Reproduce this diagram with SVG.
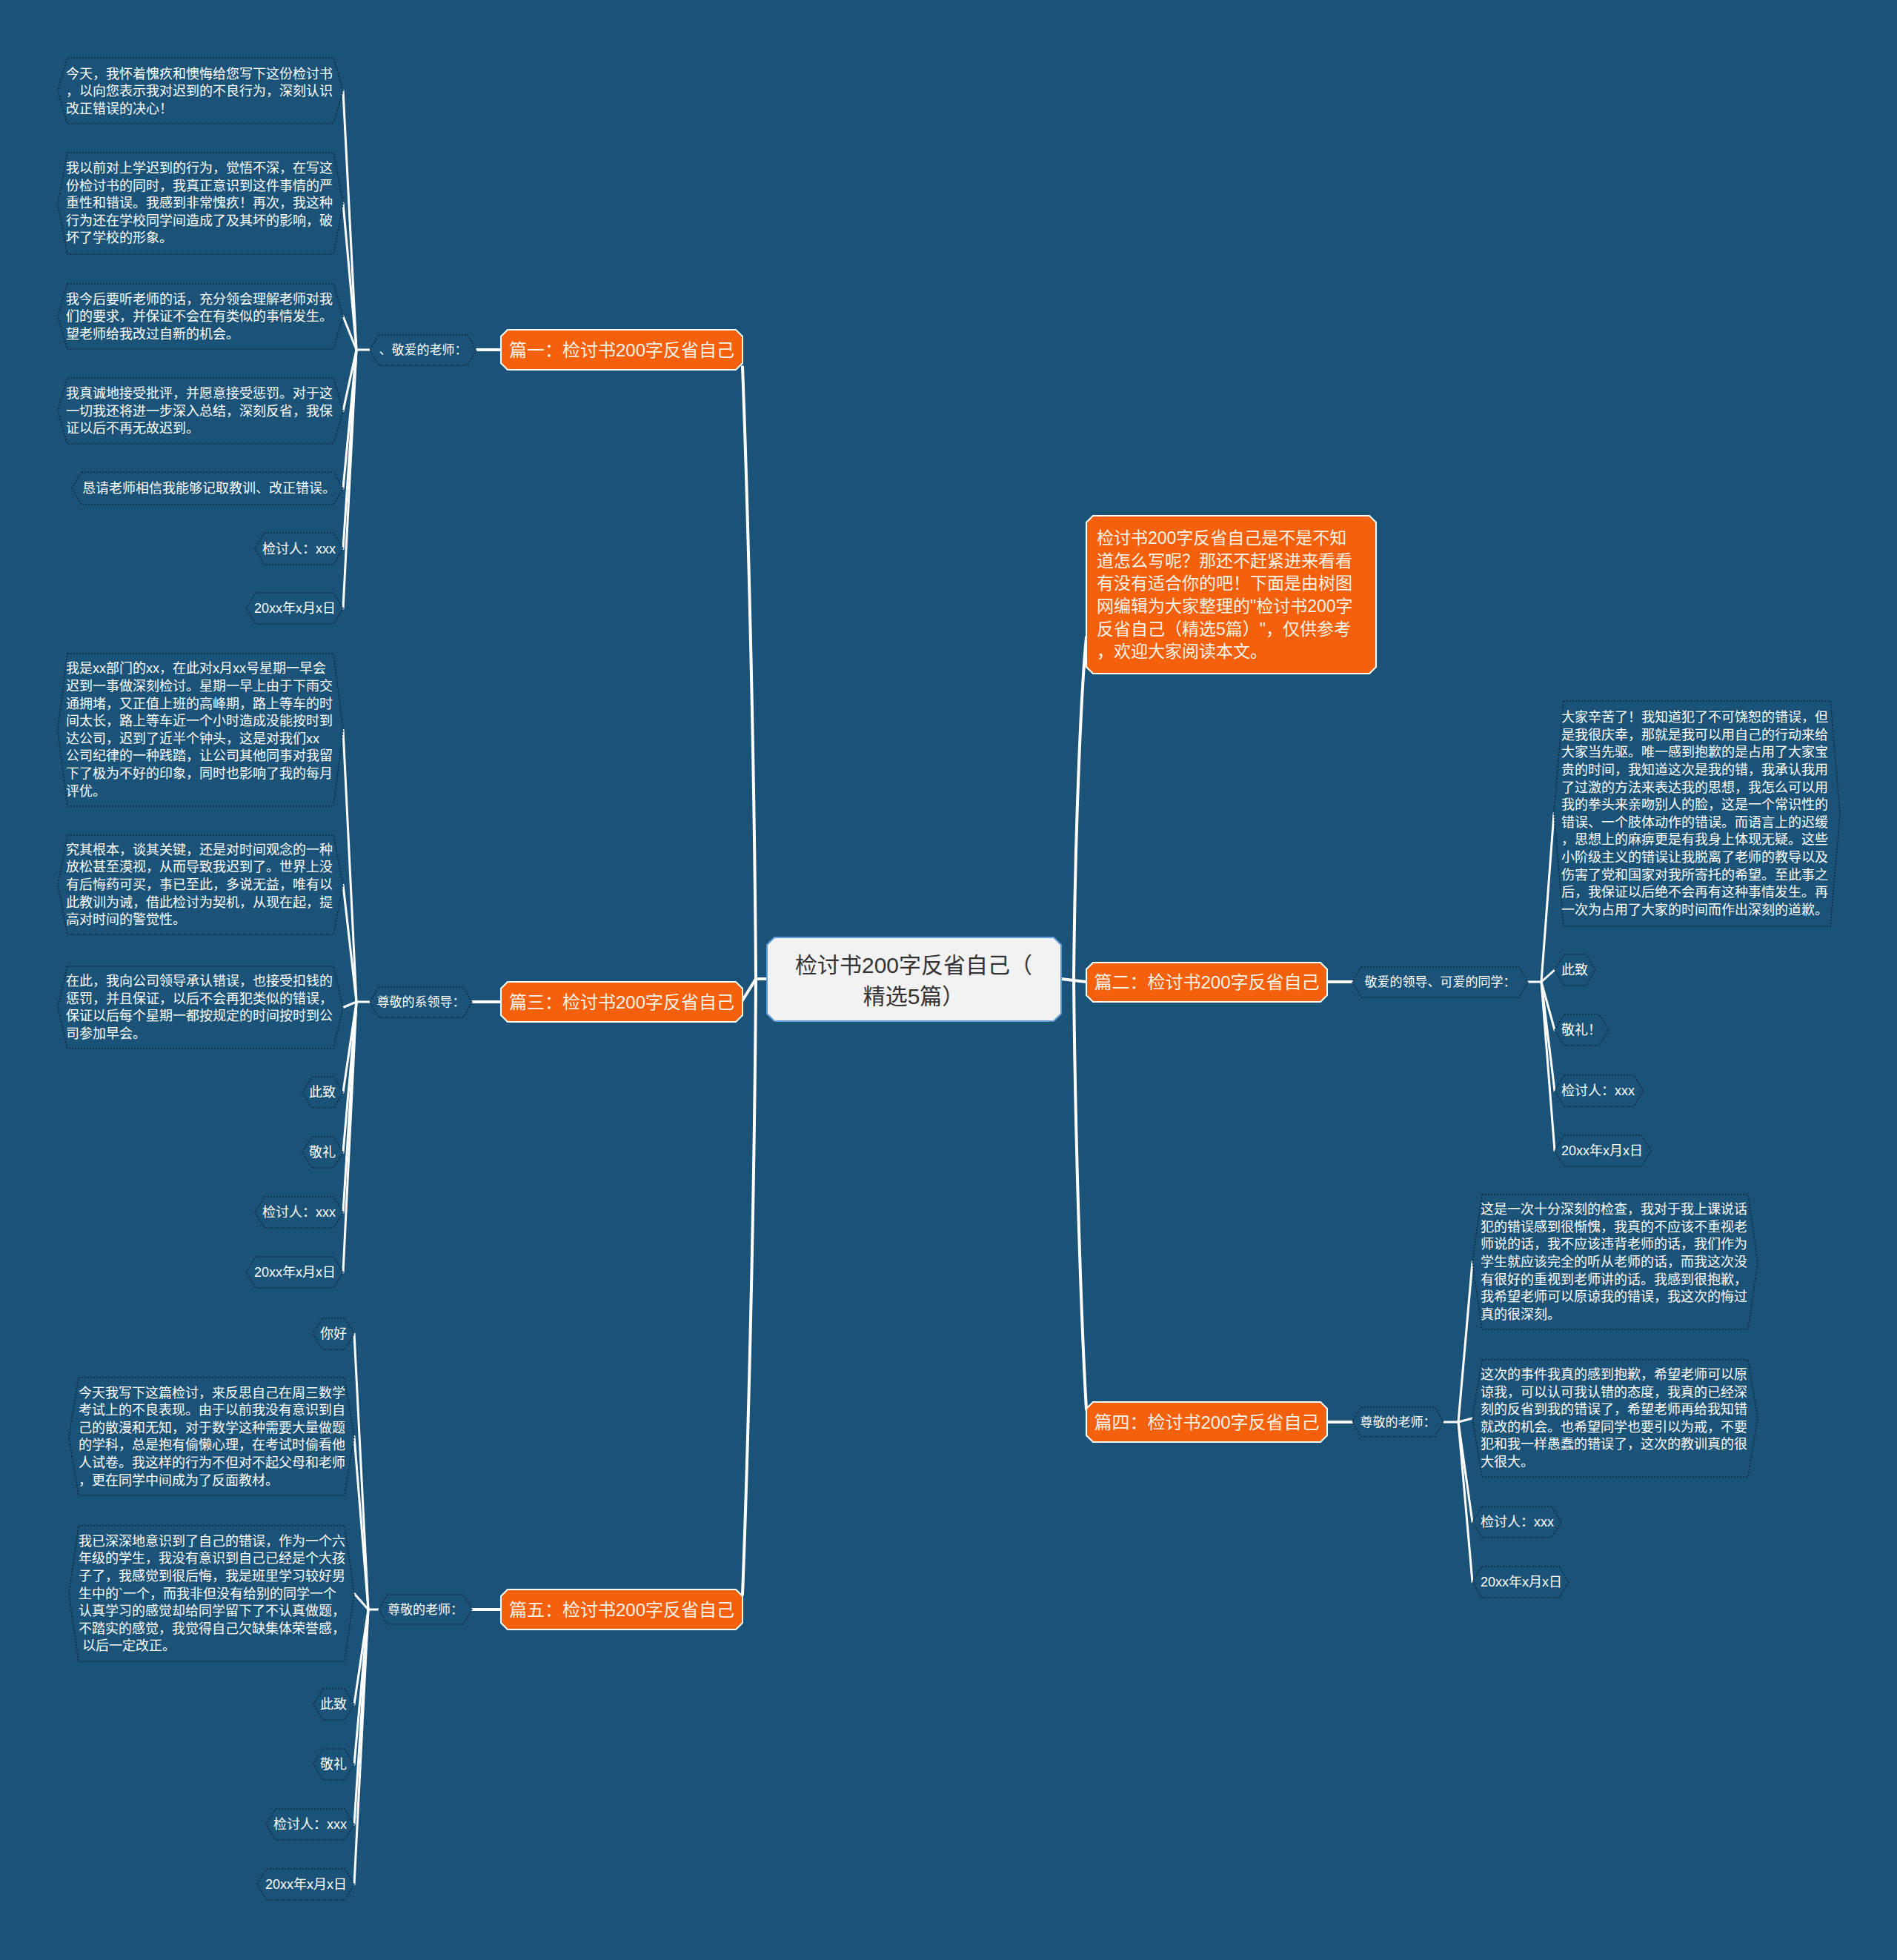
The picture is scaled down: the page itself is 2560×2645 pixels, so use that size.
<svg xmlns="http://www.w3.org/2000/svg" width="2560" height="2645" viewBox="0 0 2560 2645">
<style>
.bg{fill:#1b5378}
.c{fill:none;stroke:#ffffff;stroke-width:3;stroke-linecap:round}
.cm{fill:none;stroke:#ffffff;stroke-width:4;stroke-linecap:round}
.hx{fill:#1b5378;stroke:#0c2b44;stroke-width:1.5;stroke-dasharray:2 2}
.br{fill:#f4600c;stroke:#ffffff;stroke-width:2}
.ctr{fill:#f2f2f2;stroke:#5b9bd5;stroke-width:2}
text{font-family:"Liberation Sans","Noto Sans CJK SC",sans-serif;dominant-baseline:central}
.t{fill:#ffffff;font-size:18px}
.s{fill:#ffffff;font-size:17px}
.b{fill:#fdf3e6;font-size:24px}
.i{fill:#fdf3e6;font-size:23px}
.m{fill:#333333;font-size:30px}
</style>
<rect class="bg" x="0" y="0" width="2560" height="2645"/>

<g id="connectors">
  <path class="cm" d="M1035,1321 L1020,1321"/>
  <path class="cm" d="M1020,1321 C1018,1000 1008,650 1002,495"/>
  <path class="cm" d="M1020,1321 L1002,1350"/>
  <path class="cm" d="M1020,1321 C1018,1650 1008,2000 1002,2152"/>
  <path class="cm" d="M1432,1321 L1466,1325"/>
  <path class="cm" d="M1449,1321 C1451,1100 1460,920 1466,860"/>
  <path class="cm" d="M1449,1321 C1451,1550 1460,1800 1466,1902"/>

  <path class="cm" d="M676,472 L643,472"/>
  <path class="c" d="M499,472 L481,472"/>
  <path class="c" d="M481,472 L463,122.5"/>
  <path class="c" d="M481,472 L463,274.5"/>
  <path class="c" d="M481,472 L463,427"/>
  <path class="c" d="M481,472 L463,554.5"/>
  <path class="c" d="M481,472 L463,659"/>
  <path class="c" d="M481,472 L463,740.5"/>
  <path class="c" d="M481,472 L463,821"/>

  <path class="cm" d="M676,1352 L637,1352"/>
  <path class="c" d="M499,1352 L481,1352"/>
  <path class="c" d="M481,1352 L463,985"/>
  <path class="c" d="M481,1352 L463,1194"/>
  <path class="c" d="M481,1352 L463,1359.5"/>
  <path class="c" d="M481,1352 L463,1474"/>
  <path class="c" d="M481,1352 L463,1555"/>
  <path class="c" d="M481,1352 L463,1636"/>
  <path class="c" d="M481,1352 L463,1717"/>

  <path class="cm" d="M676,2172 L637,2172"/>
  <path class="c" d="M511,2172 L497,2172"/>
  <path class="c" d="M497,2172 L478,1800"/>
  <path class="c" d="M497,2172 L478,1938.5"/>
  <path class="c" d="M497,2172 L478,2150.5"/>
  <path class="c" d="M497,2172 L478,2300"/>
  <path class="c" d="M497,2172 L478,2381"/>
  <path class="c" d="M497,2172 L478,2462"/>
  <path class="c" d="M497,2172 L478,2543"/>

  <path class="cm" d="M1791,1325 L1825,1325"/>
  <path class="c" d="M2062,1325 L2080,1325"/>
  <path class="c" d="M2080,1325 L2097,1098"/>
  <path class="c" d="M2080,1325 L2098,1309"/>
  <path class="c" d="M2080,1325 L2098,1390"/>
  <path class="c" d="M2080,1325 L2098,1472"/>
  <path class="c" d="M2080,1325 L2098,1553"/>

  <path class="cm" d="M1791,1919 L1825,1919"/>
  <path class="c" d="M1948,1919 L1968,1919"/>
  <path class="c" d="M1968,1919 L1987,1703"/>
  <path class="c" d="M1968,1919 L1987,1914"/>
  <path class="c" d="M1968,1919 L1987,2054"/>
  <path class="c" d="M1968,1919 L1987,2135"/>
</g>

<g id="center">
  <polygon class="ctr" points="1045,1265 1422,1265 1432,1275 1432,1368 1422,1378 1045,1378 1035,1368 1035,1275"/>
  <text class="m" x="1233" y="1302" text-anchor="middle">检讨书200字反省自己（</text>
  <text class="m" x="1233" y="1344" text-anchor="middle">精选5篇）</text>
</g>

<g id="intro">
  <polygon class="br" points="1475,696 1848,696 1857,705 1857,900 1848,909 1475,909 1466,900 1466,705"/>
  <text class="i" x="1480" y="726">检讨书200字反省自己是不是不知</text>
  <text class="i" x="1480" y="757">道怎么写呢？那还不赶紧进来看看</text>
  <text class="i" x="1480" y="787">有没有适合你的吧！下面是由树图</text>
  <text class="i" x="1480" y="818">网编辑为大家整理的"检讨书200字</text>
  <text class="i" x="1480" y="849">反省自己（精选5篇）"，仅供参考</text>
  <text class="i" x="1480" y="879">，欢迎大家阅读本文。</text>
</g>

<g id="p1">
  <polygon class="br" points="685,445 993,445 1002,454 1002,490 993,499 685,499 676,490 676,454"/>
  <text class="b" x="839" y="472" text-anchor="middle">篇一：检讨书200字反省自己</text>
</g>
<g id="p3">
  <polygon class="br" points="685,1325 993,1325 1002,1334 1002,1370 993,1379 685,1379 676,1370 676,1334"/>
  <text class="b" x="839" y="1352" text-anchor="middle">篇三：检讨书200字反省自己</text>
</g>
<g id="p5">
  <polygon class="br" points="685,2145 993,2145 1002,2154 1002,2190 993,2199 685,2199 676,2190 676,2154"/>
  <text class="b" x="839" y="2172" text-anchor="middle">篇五：检讨书200字反省自己</text>
</g>
<g id="p2">
  <polygon class="br" points="1475,1299 1782,1299 1791,1308 1791,1343 1782,1352 1475,1352 1466,1343 1466,1308"/>
  <text class="b" x="1628.5" y="1325.5" text-anchor="middle">篇二：检讨书200字反省自己</text>
</g>
<g id="p4">
  <polygon class="br" points="1475,1892 1782,1892 1791,1901 1791,1937 1782,1946 1475,1946 1466,1937 1466,1901"/>
  <text class="b" x="1628.5" y="1919" text-anchor="middle">篇四：检讨书200字反省自己</text>
</g>

<g id="s1">
  <polygon class="hx" points="511,452 631,452 643,472.5 631,493 511,493 499,472.5"/>
  <text class="s" x="571" y="472.5" text-anchor="middle">、敬爱的老师：</text>
</g>
<g id="s3">
  <polygon class="hx" points="511,1332 625,1332 637,1352.5 625,1373 511,1373 499,1352.5"/>
  <text class="s" x="568" y="1352.5" text-anchor="middle">尊敬的系领导：</text>
</g>
<g id="s5">
  <polygon class="hx" points="523,2152 625,2152 637,2172 625,2192 523,2192 511,2172"/>
  <text class="s" x="574" y="2172" text-anchor="middle">尊敬的老师：</text>
</g>
<g id="s2">
  <polygon class="hx" points="1837,1305 2050,1305 2062,1325.5 2050,1346 1837,1346 1825,1325.5"/>
  <text class="s" x="1943.5" y="1325.5" text-anchor="middle">敬爱的领导、可爱的同学：</text>
</g>
<g id="s4">
  <polygon class="hx" points="1837,1899 1936,1899 1948,1919 1936,1939 1837,1939 1825,1919"/>
  <text class="s" x="1886.5" y="1919" text-anchor="middle">尊敬的老师：</text>
</g>

<g id="l1a">
  <polygon class="hx" points="91,78 450,78 463,122.5 450,167 91,167 78,122.5"/>
  <text class="t" x="89" y="99.5">今天，我怀着愧疚和懊悔给您写下这份检讨书</text>
  <text class="t" x="89" y="123">，以向您表示我对迟到的不良行为，深刻认识</text>
  <text class="t" x="89" y="146.5">改正错误的决心！</text>
</g>
<g id="l1b">
  <polygon class="hx" points="91,206 450,206 463,274.5 450,343 91,343 78,274.5"/>
  <text class="t" x="89" y="227">我以前对上学迟到的行为，觉悟不深，在写这</text>
  <text class="t" x="89" y="250.5">份检讨书的同时，我真正意识到这件事情的严</text>
  <text class="t" x="89" y="274">重性和错误。我感到非常愧疚！再次，我这种</text>
  <text class="t" x="89" y="297.5">行为还在学校同学间造成了及其坏的影响，破</text>
  <text class="t" x="89" y="321">坏了学校的形象。</text>
</g>
<g id="l1c">
  <polygon class="hx" points="91,383 450,383 463,427 450,471 91,471 78,427"/>
  <text class="t" x="89" y="403.5">我今后要听老师的话，充分领会理解老师对我</text>
  <text class="t" x="89" y="427">们的要求，并保证不会在有类似的事情发生。</text>
  <text class="t" x="89" y="450.5">望老师给我改过自新的机会。</text>
</g>
<g id="l1d">
  <polygon class="hx" points="91,510 450,510 463,554.5 450,599 91,599 78,554.5"/>
  <text class="t" x="89" y="531">我真诚地接受批评，并愿意接受惩罚。对于这</text>
  <text class="t" x="89" y="554.5">一切我还将进一步深入总结，深刻反省，我保</text>
  <text class="t" x="89" y="578">证以后不再无故迟到。</text>
</g>
<g id="l1e">
  <polygon class="hx" points="110,637 450,637 463,659 450,681 110,681 97,659"/>
  <text class="t" x="453" y="659" text-anchor="end">恳请老师相信我能够记取教训、改正错误。</text>
</g>
<g id="l1f">
  <polygon class="hx" points="357,719 450,719 463,740.5 450,762 357,762 344,740.5"/>
  <text class="t" x="453" y="740.5" text-anchor="end">检讨人：xxx</text>
</g>
<g id="l1g">
  <polygon class="hx" points="345,800 450,800 463,821 450,842 345,842 332,821"/>
  <text class="t" x="453" y="821" text-anchor="end">20xx年x月x日</text>
</g>

<g id="l3a">
  <polygon class="hx" points="91,882 450,882 463,985 450,1088 91,1088 78,985"/>
  <text class="t" x="89" y="902.4">我是xx部门的xx，在此对x月xx号星期一早会</text>
  <text class="t" x="89" y="926">迟到一事做深刻检讨。星期一早上由于下雨交</text>
  <text class="t" x="89" y="949.6">通拥堵，又正值上班的高峰期，路上等车的时</text>
  <text class="t" x="89" y="973.2">间太长，路上等车近一个小时造成没能按时到</text>
  <text class="t" x="89" y="996.8">达公司，迟到了近半个钟头，这是对我们xx</text>
  <text class="t" x="89" y="1020.4">公司纪律的一种践踏，让公司其他同事对我留</text>
  <text class="t" x="89" y="1044">下了极为不好的印象，同时也影响了我的每月</text>
  <text class="t" x="89" y="1067.6">评优。</text>
</g>
<g id="l3b">
  <polygon class="hx" points="91,1127 450,1127 463,1194 450,1261 91,1261 78,1194"/>
  <text class="t" x="89" y="1146.8">究其根本，谈其关键，还是对时间观念的一种</text>
  <text class="t" x="89" y="1170.4">放松甚至漠视，从而导致我迟到了。世界上没</text>
  <text class="t" x="89" y="1194">有后悔药可买，事已至此，多说无益，唯有以</text>
  <text class="t" x="89" y="1217.6">此教训为诫，借此检讨为契机，从现在起，提</text>
  <text class="t" x="89" y="1241.2">高对时间的警觉性。</text>
</g>
<g id="l3c">
  <polygon class="hx" points="91,1304 450,1304 463,1359.5 450,1415 91,1415 78,1359.5"/>
  <text class="t" x="89" y="1324.1">在此，我向公司领导承认错误，也接受扣钱的</text>
  <text class="t" x="89" y="1347.7">惩罚，并且保证，以后不会再犯类似的错误，</text>
  <text class="t" x="89" y="1371.3">保证以后每个星期一都按规定的时间按时到公</text>
  <text class="t" x="89" y="1394.9">司参加早会。</text>
</g>
<g id="l3d">
  <polygon class="hx" points="421,1453 450,1453 463,1474 450,1495 421,1495 408,1474"/>
  <text class="t" x="453" y="1474" text-anchor="end">此致</text>
</g>
<g id="l3e">
  <polygon class="hx" points="421,1534 450,1534 463,1555 450,1576 421,1576 408,1555"/>
  <text class="t" x="453" y="1555" text-anchor="end">敬礼</text>
</g>
<g id="l3f">
  <polygon class="hx" points="357,1615 450,1615 463,1636 450,1657 357,1657 344,1636"/>
  <text class="t" x="453" y="1636" text-anchor="end">检讨人：xxx</text>
</g>
<g id="l3g">
  <polygon class="hx" points="345,1696 450,1696 463,1717 450,1738 345,1738 332,1717"/>
  <text class="t" x="453" y="1717" text-anchor="end">20xx年x月x日</text>
</g>

<g id="l5a">
  <polygon class="hx" points="435,1779 465,1779 478,1800 465,1821 435,1821 422,1800"/>
  <text class="t" x="468" y="1800" text-anchor="end">你好</text>
</g>
<g id="l5b">
  <polygon class="hx" points="106,1859 465,1859 478,1938.5 465,2018 106,2018 93,1938.5"/>
  <text class="t" x="106" y="1879.5">今天我写下这篇检讨，来反思自己在周三数学</text>
  <text class="t" x="106" y="1903.1">考试上的不良表现。由于以前我没有意识到自</text>
  <text class="t" x="106" y="1926.7">己的散漫和无知，对于数学这种需要大量做题</text>
  <text class="t" x="106" y="1950.3">的学科，总是抱有偷懒心理，在考试时偷看他</text>
  <text class="t" x="106" y="1973.9">人试卷。我这样的行为不但对不起父母和老师</text>
  <text class="t" x="106" y="1997.5">，更在同学中间成为了反面教材。</text>
</g>
<g id="l5c">
  <polygon class="hx" points="106,2059 465,2059 478,2150.5 465,2242 106,2242 93,2150.5"/>
  <text class="t" x="106" y="2079.7">我已深深地意识到了自己的错误，作为一个六</text>
  <text class="t" x="106" y="2103.3">年级的学生，我没有意识到自己已经是个大孩</text>
  <text class="t" x="106" y="2126.9">子了，我感觉到很后悔，我是班里学习较好男</text>
  <text class="t" x="106" y="2150.5">生中的`一个，而我非但没有给别的同学一个</text>
  <text class="t" x="106" y="2174.1">认真学习的感觉却给同学留下了不认真做题，</text>
  <text class="t" x="106" y="2197.7">不踏实的感觉，我觉得自己欠缺集体荣誉感，</text>
  <text class="t" x="106" y="2221.3" style="white-space:pre"> 以后一定改正。</text>
</g>
<g id="l5d">
  <polygon class="hx" points="436,2279 465,2279 478,2300 465,2321 436,2321 423,2300"/>
  <text class="t" x="468" y="2300" text-anchor="end">此致</text>
</g>
<g id="l5e">
  <polygon class="hx" points="436,2360 465,2360 478,2381 465,2402 436,2402 423,2381"/>
  <text class="t" x="468" y="2381" text-anchor="end">敬礼</text>
</g>
<g id="l5f">
  <polygon class="hx" points="372,2441 465,2441 478,2462 465,2483 372,2483 359,2462"/>
  <text class="t" x="468" y="2462" text-anchor="end">检讨人：xxx</text>
</g>
<g id="l5g">
  <polygon class="hx" points="360,2522 465,2522 478,2543 465,2564 360,2564 347,2543"/>
  <text class="t" x="468" y="2543" text-anchor="end">20xx年x月x日</text>
</g>

<g id="l2a">
  <polygon class="hx" points="2110,946 2470,946 2483,1098 2470,1250 2110,1250 2097,1098"/>
  <text class="t" x="2107" y="968.2">大家辛苦了！我知道犯了不可饶恕的错误，但</text>
  <text class="t" x="2107" y="991.8">是我很庆幸，那就是我可以用自己的行动来给</text>
  <text class="t" x="2107" y="1015.4">大家当先驱。唯一感到抱歉的是占用了大家宝</text>
  <text class="t" x="2107" y="1039">贵的时间，我知道这次是我的错，我承认我用</text>
  <text class="t" x="2107" y="1062.6">了过激的方法来表达我的思想，我怎么可以用</text>
  <text class="t" x="2107" y="1086.2">我的拳头来亲吻别人的脸，这是一个常识性的</text>
  <text class="t" x="2107" y="1109.8">错误、一个肢体动作的错误。而语言上的迟缓</text>
  <text class="t" x="2107" y="1133.4">，思想上的麻痹更是有我身上体现无疑。这些</text>
  <text class="t" x="2107" y="1157">小阶级主义的错误让我脱离了老师的教导以及</text>
  <text class="t" x="2107" y="1180.6">伤害了党和国家对我所寄托的希望。至此事之</text>
  <text class="t" x="2107" y="1204.2">后，我保证以后绝不会再有这种事情发生。再</text>
  <text class="t" x="2107" y="1227.8">一次为占用了大家的时间而作出深刻的道歉。</text>
</g>
<g id="l2b">
  <polygon class="hx" points="2111,1288 2140,1288 2153,1309 2140,1330 2111,1330 2098,1309"/>
  <text class="t" x="2107" y="1309">此致</text>
</g>
<g id="l2c">
  <polygon class="hx" points="2111,1369 2158,1369 2171,1390 2158,1411 2111,1411 2098,1390"/>
  <text class="t" x="2107" y="1390">敬礼！</text>
</g>
<g id="l2d">
  <polygon class="hx" points="2111,1451 2205,1451 2218,1472 2205,1493 2111,1493 2098,1472"/>
  <text class="t" x="2107" y="1472">检讨人：xxx</text>
</g>
<g id="l2e">
  <polygon class="hx" points="2111,1532 2215,1532 2228,1553 2215,1574 2111,1574 2098,1553"/>
  <text class="t" x="2107" y="1553">20xx年x月x日</text>
</g>

<g id="l4a">
  <polygon class="hx" points="2000,1612 2359,1612 2372,1703 2359,1794 2000,1794 1987,1703"/>
  <text class="t" x="1998" y="1632.2">这是一次十分深刻的检查，我对于我上课说话</text>
  <text class="t" x="1998" y="1655.8">犯的错误感到很惭愧，我真的不应该不重视老</text>
  <text class="t" x="1998" y="1679.4">师说的话，我不应该违背老师的话，我们作为</text>
  <text class="t" x="1998" y="1703">学生就应该完全的听从老师的话，而我这次没</text>
  <text class="t" x="1998" y="1726.6">有很好的重视到老师讲的话。我感到很抱歉，</text>
  <text class="t" x="1998" y="1750.2">我希望老师可以原谅我的错误，我这次的悔过</text>
  <text class="t" x="1998" y="1773.8">真的很深刻。</text>
</g>
<g id="l4b">
  <polygon class="hx" points="2000,1835 2359,1835 2372,1914 2359,1993 2000,1993 1987,1914"/>
  <text class="t" x="1998" y="1855">这次的事件我真的感到抱歉，希望老师可以原</text>
  <text class="t" x="1998" y="1878.6">谅我，可以认可我认错的态度，我真的已经深</text>
  <text class="t" x="1998" y="1902.2">刻的反省到我的错误了，希望老师再给我知错</text>
  <text class="t" x="1998" y="1925.8">就改的机会。也希望同学也要引以为戒，不要</text>
  <text class="t" x="1998" y="1949.4">犯和我一样愚蠢的错误了，这次的教训真的很</text>
  <text class="t" x="1998" y="1973">大很大。</text>
</g>
<g id="l4c">
  <polygon class="hx" points="2000,2033 2094,2033 2107,2054 2094,2075 2000,2075 1987,2054"/>
  <text class="t" x="1998" y="2054">检讨人：xxx</text>
</g>
<g id="l4d">
  <polygon class="hx" points="2000,2114 2104,2114 2117,2135 2104,2156 2000,2156 1987,2135"/>
  <text class="t" x="1998" y="2135">20xx年x月x日</text>
</g>
</svg>
